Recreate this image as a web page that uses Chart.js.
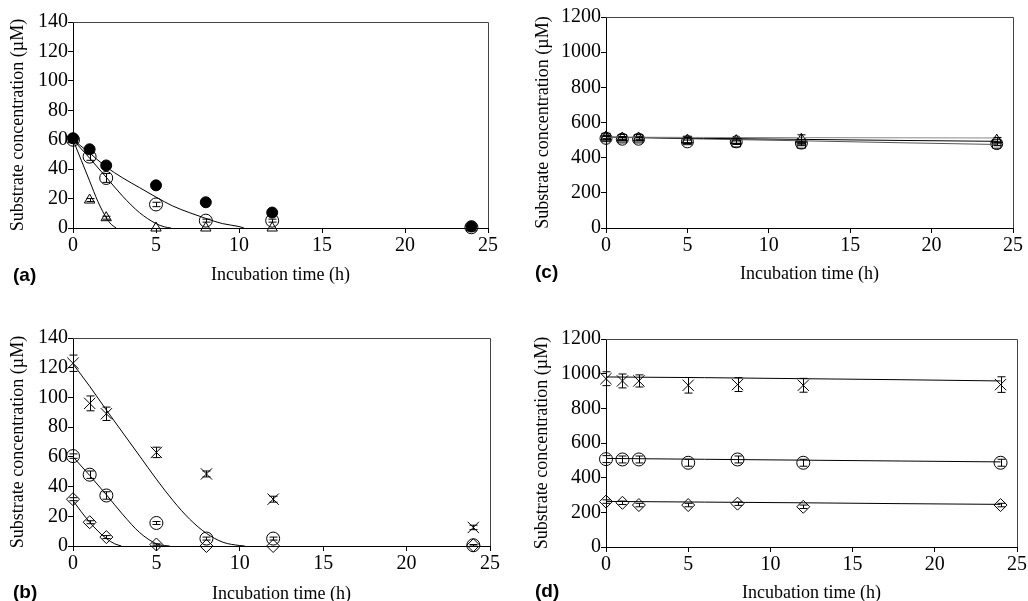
<!DOCTYPE html>
<html>
<head>
<meta charset="utf-8">
<script src="https://cdn.jsdelivr.net/npm/chart.js@4.4.1/dist/chart.umd.min.js"></script>
<style>
  html, body { margin:0; padding:0; background:#fff; overflow:hidden; width:1028px; height:601px; }
  canvas { position:absolute; }
  .lbl { position:absolute; font-family:"Liberation Sans", Arial, sans-serif; font-weight:bold; font-size:19px; line-height:19px; color:#000; }
</style>
</head>
<body>
<canvas id="ca" width="514" height="300" style="left:0px;top:0px"></canvas>
<canvas id="cc" width="514" height="300" style="left:514px;top:0px"></canvas>
<canvas id="cb" width="514" height="320" style="left:0px;top:300px"></canvas>
<canvas id="cd" width="514" height="320" style="left:514px;top:300px"></canvas>
<div class="lbl" style="left:13px;top:265px">(a)</div>
<div class="lbl" style="left:535px;top:262px">(c)</div>
<div class="lbl" style="left:13px;top:582px">(b)</div>
<div class="lbl" style="left:535px;top:581px">(d)</div>
<script>
// ---------- data ----------
const times = [0, 1, 2, 5, 8, 12, 24];
const xTicks = [0, 5, 10, 15, 20, 25];
const yTicksAB = [0, 20, 40, 60, 80, 100, 120, 140];
const yTicksCD = [0, 200, 400, 600, 800, 1000, 1200];

// Panel (a)
const aFilled    = [61, 53.5, 42.5, 29, 17.5, 10.5, 1];
const aFilledErr = [1, 1.5, 1, 1, 0.5, 0.5, 0.5];
const aOpen      = [60, 48.5, 34, 16, 5, 5, 0.5];
const aOpenErr   = [1.5, 2.5, 3, 1.5, 1, 1, 0.5];
const aTri       = [60, 19, 7, 0, 0, 0, 0];
const aTriErr    = [1, 1, 1, 0, 0, 0, 0];
const aFitFilledT = [0, 1, 2, 3, 4, 5, 6, 7, 8, 9, 10, 10.3];
const aFitFilled  = [60, 51, 41.5, 34, 27.5, 21, 15, 10.5, 6.5, 3, 1, 0];
const aFitOpenT   = [0, 1, 2, 3, 4, 5, 5.5, 5.9];
const aFitOpen    = [60, 47.5, 34.5, 21.5, 10.5, 3, 0.8, 0];
const aFitTriT    = [0, 0.5, 1, 1.5, 2, 2.3, 2.6];
const aFitTri     = [60, 46, 32, 18, 7, 2.5, 0];

// Panel (b)
const bX        = [123, 96, 89, 63, 48.5, 31.5, 12.5];
const bXErr     = [5.5, 5, 4.5, 3.5, 2, 2, 1.5];
const bCirc     = [60.5, 48, 34, 15.5, 5, 5, 0.5];
const bCircErr  = [1.5, 2.5, 2.5, 1, 1, 1, 0.5];
const bDia      = [31.5, 16, 6, 1, 0, 0, 0.5];
const bDiaErr   = [1, 1, 1, 0.5, 0, 0, 0];
const bFitXT    = [0, 1, 2, 3, 4, 5, 6, 7, 8, 9, 10, 10.3];
const bFitX     = [122.5, 107.5, 91.5, 76, 60.5, 45, 30.5, 18, 8.5, 2.5, 0.3, 0];
const bFitCircT = [0, 1, 2, 3, 4, 5, 5.5, 5.8];
const bFitCirc  = [60, 47.5, 34.5, 21, 9, 1.5, 0.3, 0];
const bFitDiaT  = [0, 0.5, 1, 1.5, 2, 2.5, 2.9];
const bFitDia   = [30.5, 23, 16, 10, 5, 1.5, 0];

// Panel (c)
const cSq       = [515, 508, 508, 498, 485, 478, 478];
const cSqErr    = [10, 8, 8, 15, 10, 10, 10];
const cTri      = [518, 512, 512, 500, 497, 505, 500];
const cTriErr   = [10, 8, 10, 15, 15, 25, 15];
const cCirc     = [510, 505, 505, 490, 490, 483, 480];
const cCircErr  = [10, 8, 8, 10, 10, 10, 10];
const cFitT     = [0, 6, 12, 18, 24];
const cFitA     = [517, 515, 514, 513, 512];
const cFitB     = [517, 510, 504, 498, 493];
const cFitC     = [517, 506, 496, 485, 475];

// Panel (d)
const dX        = [971, 958, 958, 933, 937, 933, 937];
const dXErr     = [40, 40, 35, 45, 40, 40, 45];
const dCirc     = [507, 505, 505, 486, 505, 486, 486];
const dCircErr  = [20, 20, 20, 20, 20, 20, 20];
const dDia      = [262, 255, 242, 242, 250, 232, 242];
const dDiaErr   = [10, 10, 10, 10, 10, 10, 10];
const dFitT     = [0, 6, 12, 18, 24];
const dFitX     = [981, 977, 971, 965, 958];
const dFitCirc  = [511, 506, 501, 496, 491];
const dFitDia   = [263, 259, 255, 250, 246];

// ---------- helpers ----------
Chart.defaults.font.family = '"Liberation Serif", "Times New Roman", serif';
Chart.defaults.font.size = 18;
Chart.defaults.color = '#000';

const pts = (xs, ys) => xs.map((x, i) => ({x: x, y: ys[i]}));

function marker(label, ys, errs, style, filled, radius) {
  return {
    label: label, data: pts(times, ys), errors: errs,
    pointStyle: style, pointRadius: radius || 6, pointHoverRadius: radius || 6,
    pointBorderColor: '#000', pointBorderWidth: 1,
    pointBackgroundColor: filled ? '#000' : 'rgba(0,0,0,0)',
    showLine: false, clip: false
  };
}
function fit(label, xs, ys, color) {
  return {
    label: label, data: pts(xs, ys), showLine: true, pointRadius: 0,
    borderColor: color || '#000', borderWidth: 1, cubicInterpolationMode: 'monotone',
    fill: false, clip: false
  };
}

const errorBarPlugin = {
  id: 'errbars',
  afterDatasetsDraw(chart) {
    const ctx = chart.ctx, xs = chart.scales.x, ys = chart.scales.y;
    chart.data.datasets.forEach(ds => {
      if (!ds.errors) return;
      ctx.save();
      ctx.strokeStyle = '#000'; ctx.lineWidth = 1;
      ds.data.forEach((p, j) => {
        const e = ds.errors[j];
        if (!e) return;
        const x = Math.round(xs.getPixelForValue(p.x)) + 0.5;
        const y1 = ys.getPixelForValue(p.y - e), y2 = ys.getPixelForValue(p.y + e);
        ctx.beginPath();
        ctx.moveTo(x, y1); ctx.lineTo(x, y2);
        ctx.moveTo(x - 4, y1); ctx.lineTo(x + 4, y1);
        ctx.moveTo(x - 4, y2); ctx.lineTo(x + 4, y2);
        ctx.stroke();
      });
      ctx.restore();
    });
  }
};
const framePlugin = {
  id: 'frame',
  afterDraw(chart) {
    const a = chart.chartArea, ctx = chart.ctx;
    ctx.save();
    ctx.strokeStyle = '#444'; ctx.lineWidth = 1;
    ctx.beginPath();
    ctx.moveTo(a.left, a.top + 0.5); ctx.lineTo(a.right + 0.5, a.top + 0.5);
    ctx.lineTo(a.right + 0.5, a.bottom);
    ctx.stroke();
    ctx.restore();
  }
};

function build(id, geo, ymax, ystep, datasets) {
  const canvas = document.getElementById(id);
  const W = canvas.width, H = canvas.height;
  return new Chart(canvas, {
    type: 'scatter',
    data: { datasets: datasets },
    plugins: [errorBarPlugin, framePlugin],
    options: {
      responsive: false, animation: false, devicePixelRatio: 1,
      layout: { padding: { left: 0, top: geo.T, right: W - geo.R, bottom: 0 } },
      plugins: { legend: { display: false }, tooltip: { enabled: false } },
      scales: {
        x: {
          type: 'linear', min: xTicks[0], max: xTicks[xTicks.length - 1],
          ticks: { stepSize: 5, padding: 1, color: '#000', font: { size: 20 }, callback: v => String(v) },
          grid: { display: true, drawOnChartArea: false, drawTicks: true, tickLength: 5, color: '#000' },
          border: { display: true, color: '#000', width: 1 },
          title: { display: true, text: 'Incubation time (h)', color: '#000', font: { size: 18 },
                   padding: { top: 0, bottom: geo.xpb } },
          afterFit: s => { s.height = H - geo.B; }
        },
        y: {
          type: 'linear', min: 0, max: ymax,
          ticks: { stepSize: ystep, padding: 0, color: '#000', font: { size: 20 }, callback: v => String(v) },
          grid: { display: true, drawOnChartArea: false, drawTicks: true, tickLength: 5, color: '#000' },
          border: { display: true, color: '#000', width: 1 },
          title: { display: true, text: 'Substrate concentration (\u00B5M)', color: '#000', font: { size: 18 },
                   padding: { top: geo.ypt, bottom: 0 } },
          afterFit: s => { s.width = geo.L; }
        }
      }
    }
  });
}

// ---------- charts ----------
build('ca', { L: 73, T: 22, R: 488, B: 228, xpb: 14.2, ypt: 7.2 }, yTicksAB[yTicksAB.length - 1], 20, [
  fit('fit filled', aFitFilledT, aFitFilled),
  fit('fit open', aFitOpenT, aFitOpen),
  fit('fit triangle', aFitTriT, aFitTri),
  marker('filled circles', aFilled, aFilledErr, 'circle', true, 5.5),
  marker('open circles', aOpen, aOpenErr, 'circle', false, 6.5),
  marker('triangles', aTri, aTriErr, 'triangle', false, 6)
]);

build('cc', { L: 92, T: 17, R: 499, B: 228, xpb: 14.7, ypt: 18.7 }, yTicksCD[yTicksCD.length - 1], 200, [
  fit('fit 1', cFitT, cFitA, '#888'),
  fit('fit 2', cFitT, cFitB, '#000'),
  fit('fit 3', cFitT, cFitC, '#555'),
  marker('squares', cSq, cSqErr, 'rect', false, 6),
  marker('triangles', cTri, cTriErr, 'triangle', false, 6),
  marker('circles', cCirc, cCircErr, 'circle', false, 6)
]);

build('cb', { L: 73, T: 38, R: 490, B: 246, xpb: 15.2, ypt: 7.2 }, yTicksAB[yTicksAB.length - 1], 20, [
  fit('fit X', bFitXT, bFitX),
  fit('fit circles', bFitCircT, bFitCirc),
  fit('fit diamonds', bFitDiaT, bFitDia),
  marker('crosses', bX, bXErr, 'crossRot', false, 8),
  marker('circles', bCirc, bCircErr, 'circle', false, 6.5),
  marker('diamonds', bDia, bDiaErr, 'rectRot', false, 6.5)
]);

build('cd', { L: 92, T: 39, R: 503, B: 247, xpb: 16.2, ypt: 17.7 }, yTicksCD[yTicksCD.length - 1], 200, [
  fit('fit X', dFitT, dFitX),
  fit('fit circles', dFitT, dFitCirc),
  fit('fit diamonds', dFitT, dFitDia),
  marker('crosses', dX, dXErr, 'crossRot', false, 8),
  marker('circles', dCirc, dCircErr, 'circle', false, 6.5),
  marker('diamonds', dDia, dDiaErr, 'rectRot', false, 6.5)
]);
</script>
</body>
</html>
